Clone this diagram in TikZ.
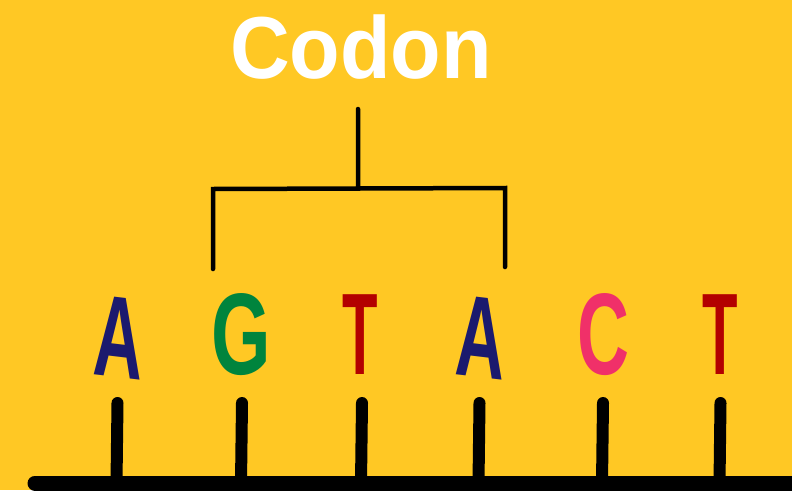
\documentclass[tikz,border=0pt]{standalone}
\usepackage{fontspec}
\setmainfont{Liberation Sans}
\definecolor{bgyellow}{HTML}{FFC824}
\definecolor{navyA}{HTML}{1B1A6E}
\definecolor{greenG}{HTML}{00843D}
\definecolor{redT}{HTML}{B30000}
\definecolor{pinkC}{HTML}{F03069}

\begin{document}
\begin{tikzpicture}[x=1pt,y=-1pt,
  basepair/.style={font=\fontsize{116}{116}\bfseries\selectfont,anchor=base,inner sep=0pt},
  stemline/.style={line width=12pt,line cap=round},
  brackline/.style={line width=4.5pt,line cap=round}]
\fill[bgyellow] (0,0) rectangle (792,490);
\useasboundingbox (0,0) rectangle (792,490);

% title
\node[font=\fontsize{88}{88}\bfseries\selectfont,text=white,anchor=base,inner sep=0pt,xscale=0.94] (codon) at (361,78) {Codon};

% bases
\node[basepair,text=navyA,xscale=0.59,rotate=-4] (a1) at (117.5,377) {A};
\node[basepair,text=greenG,xscale=0.66] (g1) at (241.5,374) {G};
\node[basepair,text=redT,xscale=0.5] (t1) at (360,374) {T};
\node[basepair,text=navyA,xscale=0.59,rotate=-4] (a2) at (479,377) {A};
\node[basepair,text=pinkC,xscale=0.62] (c1) at (603,374) {C};
\node[basepair,text=redT,xscale=0.5] (t2) at (720,374) {T};

% bracket
\coordinate (top) at (358,109);
\coordinate (mid) at (358,188);
\coordinate (bl) at (213,189);
\coordinate (br) at (505,188);
\coordinate (blend) at (213,269);
\coordinate (brend) at (505,267);
\draw[brackline] (top)--(mid) (blend)--(bl)--(br)--(brend);

% backbone
\coordinate (bbl) at (35,483);
\coordinate (bbr) at (810,483);
\draw[line width=15pt,line cap=round] (bbl)--(bbr);
\foreach \x/\n in {117.5/1,242/2,362/3,479.5/4,603/5,720.5/6}{
  \coordinate (s\n) at (\x,403);
  \coordinate (e\n) at (\x-1,483);
  \draw[stemline] (s\n)--(e\n);
}
\end{tikzpicture}
\end{document}
